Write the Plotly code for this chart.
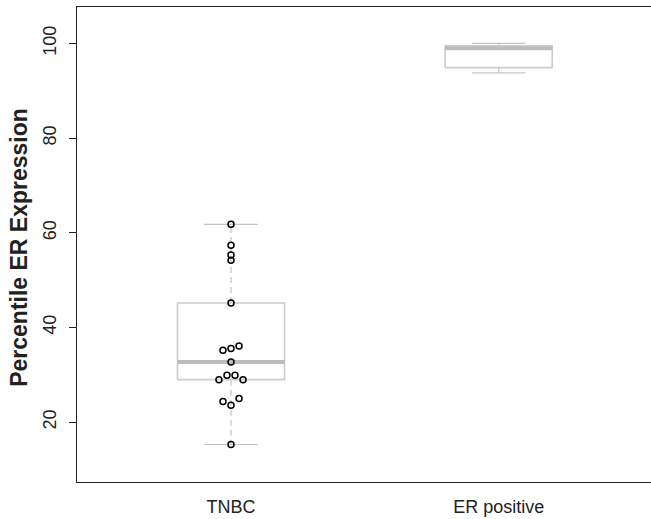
import numpy as np
import plotly.graph_objects as go

# ---- data ----
categories = ["TNBC", "ER positive"]
tnbc_values = [61.8, 57.4, 55.3, 54.2, 45.2, 36.1, 35.6, 35.2, 32.7,
               29.9, 29.9, 29.0, 29.0, 25.0, 24.4, 23.6, 15.3]
# horizontal swarm offsets of the TNBC points (category units)
tnbc_offsets = [0, 0, 0, 0, 0, 0.030, 0, -0.030, 0,
                -0.015, 0.015, -0.045, 0.045, 0.030, -0.030, 0, 0]
# ER positive five-number summary (min, lower hinge, median, upper hinge, max)
er_fivenum = [93.8, 94.9, 99.0, 99.5, 100.0]
y_ticks = [20, 40, 60, 80, 100]


def fivenum(v):
    x = np.sort(np.asarray(v, dtype=float))
    n = len(x)
    n4 = np.floor((n + 3) / 2) / 2
    d = np.array([1, n4, (n + 1) / 2, n + 1 - n4, n]) - 1
    return list(0.5 * (x[np.floor(d).astype(int)] + x[np.ceil(d).astype(int)]))


stats = [fivenum(tnbc_values), er_fivenum]
positions = [1, 2]
half_box = 0.2
half_cap = 0.1

box_x, box_y, med_x, med_y, wh_x, wh_y, cap_x, cap_y = ([] for _ in range(8))
for c, (mn, q1, md, q3, mx) in zip(positions, stats):
    box_x += [c - half_box, c + half_box, c + half_box, c - half_box, c - half_box, None]
    box_y += [q1, q1, q3, q3, q1, None]
    med_x += [c - half_box, c + half_box, None]
    med_y += [md, md, None]
    wh_x += [c, c, None, c, c, None]
    wh_y += [q3, mx, None, q1, mn, None]
    cap_x += [c - half_cap, c + half_cap, None, c - half_cap, c + half_cap, None]
    cap_y += [mx, mx, None, mn, mn, None]

fig = go.Figure()
fig.add_trace(go.Scatter(x=wh_x, y=wh_y, mode="lines",
                         line=dict(color="#c4c4c4", width=1.2, dash="6px,4px"),
                         hoverinfo="skip", showlegend=False))
fig.add_trace(go.Scatter(x=cap_x, y=cap_y, mode="lines",
                         line=dict(color="#c4c4c4", width=1.2),
                         hoverinfo="skip", showlegend=False))
fig.add_trace(go.Scatter(x=box_x, y=box_y, mode="lines",
                         line=dict(color="#cccccc", width=1.6),
                         hoverinfo="skip", showlegend=False))
fig.add_trace(go.Scatter(x=med_x, y=med_y, mode="lines",
                         line=dict(color="#bdbdbd", width=4),
                         hoverinfo="skip", showlegend=False))
fig.add_trace(go.Scatter(
    x=[positions[0] + o for o in tnbc_offsets], y=tnbc_values, mode="markers",
    marker=dict(symbol="circle-open", size=6, color="black", line=dict(width=1.5)),
    showlegend=False))

font_family = "Liberation Sans, Arial, Helvetica, sans-serif"
fig.update_layout(
    width=651, height=519,
    margin=dict(l=77, r=0, t=7, b=37, autoexpand=False),
    paper_bgcolor="white", plot_bgcolor="white",
    font=dict(family=font_family, color="#222222"),
    xaxis=dict(range=[0.4247, 2.569], tickvals=positions, ticktext=categories,
               ticks="", showgrid=False, zeroline=False, automargin=False,
               showline=True, mirror=True, linecolor="#222222", linewidth=1.3,
               tickfont=dict(size=18, family=font_family, color="#222222"),
               ticklabelstandoff=8),
    yaxis=dict(range=[7.38, 107.7], tickvals=y_ticks, automargin=False,
               ticks="outside", ticklen=7, tickwidth=1.2, tickcolor="#222222",
               showgrid=False, zeroline=False,
               showline=True, mirror=False, linecolor="#222222", linewidth=1.3,
               tickangle=-90,
               tickfont=dict(size=18, family=font_family, color="#222222"),
               ticklabelstandoff=6),
    annotations=[dict(text="<b>Percentile ER Expression</b>", textangle=-90,
                      xref="paper", yref="paper", x=(19 - 77) / 574, y=0.493,
                      xanchor="center", yanchor="middle", showarrow=False,
                      font=dict(size=23, family=font_family, color="#222222"))],
)

fig.write_html("out.html",
               config={"displayModeBar": False},
               post_script="document.body.style.margin='0px';"
                           "document.body.style.overflow='hidden';")
